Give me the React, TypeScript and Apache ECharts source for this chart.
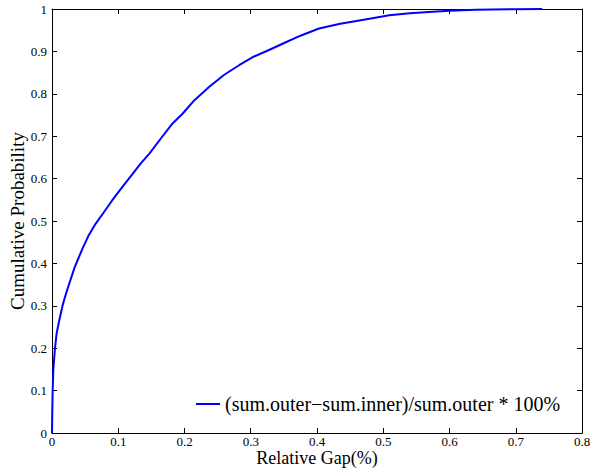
import React, { useEffect, useRef } from "react";
import * as echarts from "echarts";

const gaps = [0, 0.0004, 0.001, 0.002, 0.0045, 0.007, 0.011, 0.016, 0.021, 0.026, 0.034, 0.046, 0.055, 0.066, 0.078, 0.091, 0.106, 0.122, 0.134, 0.147, 0.164, 0.182, 0.197, 0.215, 0.237, 0.26, 0.283, 0.305, 0.33, 0.348, 0.375, 0.403, 0.435, 0.464, 0.49, 0.509, 0.54, 0.569, 0.6, 0.64, 0.7, 0.74];
const probs = [0, 0.05, 0.1, 0.15, 0.2, 0.235, 0.266, 0.301, 0.328, 0.352, 0.39, 0.435, 0.465, 0.494, 0.52, 0.549, 0.58, 0.612, 0.636, 0.659, 0.694, 0.73, 0.753, 0.785, 0.816, 0.845, 0.868, 0.888, 0.905, 0.918, 0.937, 0.954, 0.965, 0.973, 0.98, 0.985, 0.99, 0.993, 0.996, 0.998, 0.9995, 1];
const seriesName = "(sum.outer\u2212sum.inner)/sum.outer * 100%";
const xTitle = "Relative Gap(%)";
const yTitle = "Cumulative Probability";

const FONT = "'Liberation Serif', 'Times New Roman', 'DejaVu Serif', serif";

export default function App() {
  const ref = useRef<HTMLDivElement>(null);
  useEffect(() => {
    if (!ref.current) return;
    const chart = echarts.init(ref.current, undefined, { renderer: "svg" });
    const tickCommon = {
      axisLine: { show: true, onZero: false, lineStyle: { color: "#000", width: 1 } },
      axisTick: { show: true, inside: true, length: 5, lineStyle: { color: "#000" } },
      splitLine: { show: false },
    };
    chart.setOption({
      animation: false,
      backgroundColor: "#fff",
      textStyle: { fontFamily: FONT },
      grid: { left: 52, right: 10, top: 9, bottom: 35, containLabel: false, outerBoundsMode: "none" },
      legend: {
        show: true,
        left: 196,
        top: 394,
        padding: 0,
        icon: "rect",
        itemWidth: 24,
        itemHeight: 2,
        itemGap: 3,
        textStyle: { fontFamily: FONT, fontSize: 20, color: "#000" },
        data: [seriesName],
      },
      xAxis: [
        {
          type: "value",
          min: 0,
          max: 0.8,
          interval: 0.1,
          position: "bottom",
          name: xTitle,
          nameLocation: "middle",
          nameGap: 16,
          nameMoveOverlap: false,
          nameTextStyle: { fontFamily: FONT, fontSize: 18, color: "#000", lineHeight: 18 },
          axisLabel: { fontFamily: FONT, fontSize: 13, color: "#000", margin: 2, lineHeight: 13 },
          ...tickCommon,
        },
        {
          type: "value",
          min: 0,
          max: 0.8,
          interval: 0.1,
          position: "top",
          axisLabel: { show: false },
          ...tickCommon,
        },
      ],
      yAxis: [
        {
          type: "value",
          min: 0,
          max: 1,
          interval: 0.1,
          position: "left",
          name: yTitle,
          nameLocation: "middle",
          nameGap: 25,
          nameMoveOverlap: false,
          nameTextStyle: { fontFamily: FONT, fontSize: 19, color: "#000" },
          axisLabel: { fontFamily: FONT, fontSize: 13, color: "#000", margin: 5 },
          ...tickCommon,
        },
        {
          type: "value",
          min: 0,
          max: 1,
          interval: 0.1,
          position: "right",
          axisLabel: { show: false },
          ...tickCommon,
        },
      ],
      series: [
        {
          name: seriesName,
          type: "line",
          xAxisIndex: 0,
          yAxisIndex: 0,
          showSymbol: false,
          symbol: "none",
          smooth: false,
          lineStyle: { color: "#0000ff", width: 2 },
          itemStyle: { color: "#0000ff" },
          data: gaps.map((g, i) => [g, probs[i]]),
        },
      ],
    });
    return () => chart.dispose();
  }, []);
  return (
    <div
      ref={ref}
      style={{ position: "fixed", left: 0, top: 0, width: 592, height: 468 }}
    />
  );
}
